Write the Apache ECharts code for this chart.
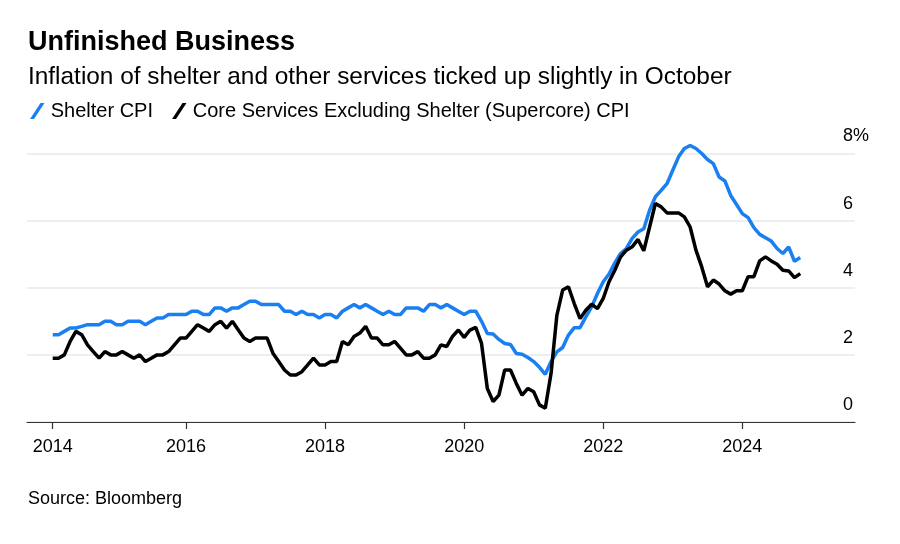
<!DOCTYPE html>
<html>
<head>
<meta charset="utf-8">
<style>
html,body{margin:0;padding:0;background:#fff;}
#chart{width:900px;height:544px;}
</style>
<script src="https://cdn.jsdelivr.net/npm/echarts@6/dist/echarts.min.js"></script>
</head>
<body>
<div id="chart"></div>
<script>
// Monthly data, Jan 2014 .. Oct 2024 (YoY %)
const startYear = 2014;
const shelterCPI = [
  2.6,2.6,2.7,2.8,2.8,2.85,2.9,2.9,2.9,3.0,3.0,2.9,
  2.9,3.0,3.0,3.0,2.9,3.0,3.1,3.1,3.2,3.2,3.2,3.2,
  3.3,3.3,3.2,3.2,3.4,3.4,3.3,3.4,3.4,3.5,3.6,3.6,
  3.5,3.5,3.5,3.5,3.3,3.3,3.2,3.3,3.2,3.2,3.1,3.2,
  3.2,3.1,3.3,3.4,3.5,3.4,3.5,3.4,3.3,3.2,3.3,3.2,
  3.2,3.4,3.4,3.4,3.3,3.5,3.5,3.4,3.5,3.4,3.3,3.2,
  3.3,3.3,3.0,2.64,2.62,2.46,2.34,2.31,2.04,2.02,1.92,1.80,
  1.63,1.42,1.80,2.09,2.22,2.59,2.81,2.81,3.13,3.43,3.83,4.18,
  4.41,4.74,5.02,5.17,5.47,5.66,5.76,6.31,6.71,6.90,7.10,7.50,
  7.90,8.15,8.24,8.15,8.0,7.82,7.70,7.30,7.18,6.75,6.48,6.21,
  6.09,5.79,5.59,5.49,5.39,5.17,5.02,5.22,4.79,4.90
];
const supercoreCPI = [
  1.9,1.9,2.0,2.4,2.7,2.6,2.3,2.1,1.9,2.1,2.0,2.0,
  2.1,2.0,1.9,2.0,1.8,1.9,2.0,2.0,2.1,2.3,2.5,2.5,
  2.7,2.9,2.8,2.7,2.9,3.0,2.8,3.0,2.75,2.5,2.4,2.5,
  2.5,2.5,2.05,1.8,1.55,1.4,1.4,1.5,1.7,1.9,1.7,1.7,
  1.8,1.8,2.4,2.3,2.55,2.65,2.85,2.5,2.5,2.3,2.3,2.4,
  2.2,2.0,2.0,2.1,1.9,1.9,2.0,2.3,2.25,2.55,2.74,2.52,
  2.74,2.82,2.34,1.0,0.61,0.80,1.55,1.55,1.15,0.80,1.0,0.90,
  0.51,0.41,1.45,3.18,3.93,4.03,3.53,3.08,3.33,3.51,3.38,3.68,
  4.18,4.52,4.92,5.12,5.22,5.44,5.1,5.81,6.51,6.41,6.23,6.23,
  6.23,6.11,5.81,5.12,4.62,4.03,4.23,4.11,3.91,3.81,3.91,3.91,
  4.33,4.33,4.80,4.92,4.80,4.70,4.52,4.50,4.30,4.42
];
const xTickYears = [2014, 2016, 2018, 2020, 2022, 2024];
const yTicks = [0, 2, 4, 6, 8];
const seriesNames = ['Shelter CPI', 'Core Services Excluding Shelter (Supercore) CPI'];

// month-end positions in fractional years
const toPoints = arr => arr.map((v, i) => [startYear + (i + 1) / 12, v]);
// first tick sits at the first observation, as in the original
const xTickValues = xTickYears.map((y, k) => k === 0 ? y + 1 / 12 : y);

const FONT = 'Liberation Sans, Arial, sans-serif';
const chart = echarts.init(document.getElementById('chart'));
const slash = 'path://M0,16L10.5,0L14.5,0L4,16Z';

chart.setOption({
  backgroundColor: '#fff',
  animation: false,
  title: [
    { text: 'Unfinished Business', left: 28, top: 29, padding: 0,
      textStyle: { fontFamily: FONT, fontSize: 27, fontWeight: 'bold', color: '#000' } },
    { text: 'Inflation of shelter and other services ticked up slightly in October', left: 28, top: 65, padding: 0,
      textStyle: { fontFamily: FONT, fontSize: 24.4, fontWeight: 'normal', color: '#000' } },
    { text: 'Source: Bloomberg', left: 28, top: 490, padding: 0,
      textStyle: { fontFamily: FONT, fontSize: 18, fontWeight: 'normal', color: '#000' } }
  ],
  legend: {
    left: 30, top: 101, padding: 0,
    itemWidth: 15, itemHeight: 16, itemGap: 19,
    textStyle: { fontFamily: FONT, fontSize: 20, color: '#000', padding: [0, 0, 0, 1] },
    data: [
      { name: seriesNames[0], icon: slash },
      { name: seriesNames[1], icon: slash }
    ]
  },
  grid: { left: 27, right: 45, top: 153.5, bottom: 122 },
  xAxis: {
    type: 'value',
    min: 2013.7135, max: 2025.6207,
    axisLine: { show: true, lineStyle: { color: '#333', width: 1.2 } },
    axisTick: { show: true, customValues: xTickValues, length: 7, lineStyle: { color: '#333', width: 1.2 } },
    axisLabel: {
      customValues: xTickValues,
      formatter: v => String(Math.floor(v)),
      fontFamily: FONT, fontSize: 18, color: '#000', margin: 16
    },
    splitLine: { show: false }
  },
  yAxis: {
    type: 'value',
    position: 'right',
    min: 0, max: 8, interval: 2,
    axisLine: { show: false },
    axisTick: { show: false },
    axisLabel: {
      fontFamily: FONT, fontSize: 18, color: '#000',
      margin: -12, align: 'left', verticalAlign: 'bottom',
      padding: [0, 0, 8, 0],
      formatter: v => v === 8 ? '8%' : String(v)
    },
    splitLine: { show: true, lineStyle: { color: '#e8e8e8', width: 1.5 } }
  },
  series: [
    { name: seriesNames[0], type: 'line', data: toPoints(shelterCPI), showSymbol: false, clip: false,
      lineStyle: { color: '#1a7ff0', width: 3.5 }, itemStyle: { color: '#1a7ff0' }, z: 2 },
    { name: seriesNames[1], type: 'line', data: toPoints(supercoreCPI), showSymbol: false, clip: false,
      lineStyle: { color: '#000', width: 3.5 }, itemStyle: { color: '#000' }, z: 3 }
  ]
});
</script>
</body>
</html>
